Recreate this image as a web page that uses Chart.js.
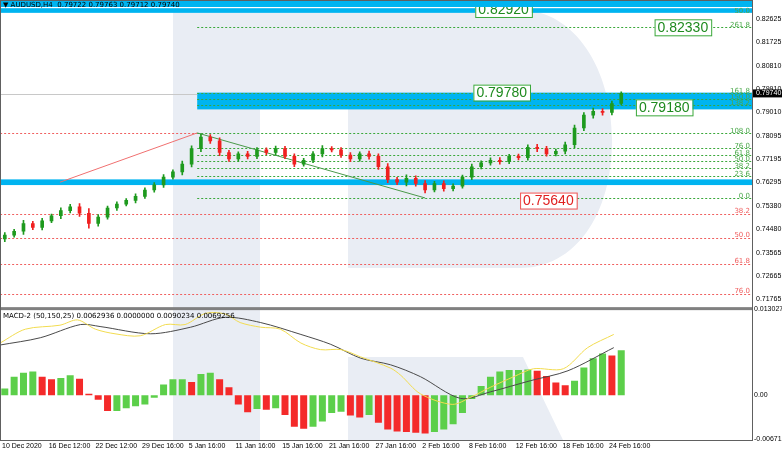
<!DOCTYPE html>
<html>
<head>
<meta charset="utf-8">
<script src="https://cdn.jsdelivr.net/npm/chart.js@4.4.1/dist/chart.umd.min.js"></script>
<style>
  html, body { margin: 0; padding: 0; background: #fff; }
  #wrap { width: 782px; height: 452px; position: relative; }
</style>
</head>
<body>
<div id="wrap"><canvas id="chart" width="782" height="452"></canvas></div>
<script>
// H4 candles (one slot per ~9 px)
const closes = [0.7425, 0.7440, 0.7470, 0.7455, 0.7480, 0.7500, 0.7520, 0.7535, 0.7510, 0.7470,
  0.7495, 0.7530, 0.7545, 0.7560, 0.7575, 0.7600, 0.7620, 0.7650, 0.7670, 0.7700,
  0.7760, 0.7805, 0.7790, 0.7745, 0.7720, 0.7740, 0.7730, 0.7755, 0.7745, 0.7760,
  0.7730, 0.7700, 0.7715, 0.7740, 0.7760, 0.7755, 0.7735, 0.7720, 0.7740, 0.7730,
  0.7690, 0.7640, 0.7630, 0.7645, 0.7625, 0.7600, 0.7625, 0.7605, 0.7615, 0.7650,
  0.7690, 0.7705, 0.7715, 0.7710, 0.7730, 0.7725, 0.7765, 0.7760, 0.7740, 0.7750,
  0.7775, 0.7840, 0.7890, 0.7905, 0.7900, 0.7935, 0.7974];
const firstOpen = 0.7410;
const wicks = [0.0010, 0.0008, 0.0012, 0.0009, 0.0010, 0.0007, 0.0011, 0.0009, 0.0012, 0.0018,
  0.0010, 0.0008, 0.0009, 0.0007, 0.0010, 0.0008, 0.0009, 0.0010, 0.0008, 0.0012,
  0.0011, 0.0012, 0.0010, 0.0012, 0.0009, 0.0008, 0.0010, 0.0009, 0.0008, 0.0010,
  0.0009, 0.0010, 0.0008, 0.0009, 0.0012, 0.0008, 0.0009, 0.0010, 0.0008, 0.0011,
  0.0010, 0.0012, 0.0009, 0.0014, 0.0010, 0.0011, 0.0008, 0.0010, 0.0009, 0.0008,
  0.0010, 0.0008, 0.0009, 0.0010, 0.0008, 0.0009, 0.0010, 0.0012, 0.0009, 0.0008,
  0.0010, 0.0011, 0.0010, 0.0012, 0.0010, 0.0009, 0.0006];

// MACD-2 histogram, one value per candle
const histogram = [0.0010, 0.0028, 0.0034, 0.0036, 0.0028, 0.0024, 0.0026, 0.0030, 0.0025, 0.0002,
  -0.0007, -0.0024, -0.0024, -0.0020, -0.0017, -0.0014, -0.0004, 0.0016, 0.0024, 0.0024,
  0.0020, 0.0032, 0.0034, 0.0024, 0.0012, -0.0014, -0.0026, -0.0021, -0.0022, -0.0020,
  -0.0030, -0.0048, -0.0051, -0.0048, -0.0040, -0.0027, -0.0025, -0.0031, -0.0034, -0.0030,
  -0.0042, -0.0052, -0.0055, -0.0056, -0.0057, -0.0058, -0.0056, -0.0052, -0.0044, -0.0027,
  -0.0006, 0.0014, 0.0028, 0.0036, 0.0038, 0.0038, 0.0039, 0.0037, 0.0029, 0.0019,
  0.0015, 0.0022, 0.0042, 0.0056, 0.0063, 0.0060, 0.0068];

// MACD lines, read as (slot, value) points
const signalX = [-0.5, 2.2, 5.9, 7.8, 9.7, 11.8, 14.5, 17.2, 19.3, 21.5, 23.6, 25.2, 27.4, 29.5, 31.7,
  33.8, 36, 38.1, 41.3, 42.4, 44.5, 47.9, 49.9, 52, 54.5, 56.6, 59.8, 62.4, 65.2];
const signalY = [0.0079, 0.0100, 0.0106, 0.0114, 0.0100, 0.0093, 0.0090, 0.0107, 0.0107, 0.0124, 0.0123,
  0.0110, 0.0103, 0.0100, 0.0079, 0.0069, 0.0069, 0.0058, 0.0041, 0.0030, 0.0002, -0.0014, -0.0003,
  0.0012, 0.0028, 0.0040, 0.0040, 0.0072, 0.0092];
const macdX = [-0.5, 3.8, 8.1, 10.2, 15.6, 19.9, 23.6, 27.4, 31.7, 34.9, 38.1, 41.3, 44.5, 48.8, 52, 56.3, 60.3, 65.2];
const macdY = [0.0076, 0.0087, 0.0107, 0.0104, 0.0093, 0.0103, 0.0118, 0.0110, 0.0092, 0.0077, 0.0056,
  0.0046, 0.0028, -0.0005, 0.0005, 0.0022, 0.0037, 0.0072];

// axis labels
const timeLabels = ['10 Dec 2020', '16 Dec 12:00', '22 Dec 12:00', '29 Dec 16:00', '5 Jan 16:00', '11 Jan 16:00',
  '15 Jan 16:00', '21 Jan 16:00', '27 Jan 16:00', '2 Feb 16:00', '8 Feb 16:00', '12 Feb 16:00',
  '18 Feb 16:00', '24 Feb 16:00'];
const priceTicks = [0.82625, 0.81725, 0.80810, 0.79910, 0.79010, 0.78095, 0.77195, 0.76295,
  0.75380, 0.74480, 0.73565, 0.72665, 0.71765];
const macdTicks = [0.0130275, 0, -0.006718];

// fibonacci levels [label, price, fromSlot]
const fibGreen = [['261.8', 0.8232, 20.6], ['161.8', 0.7977, 20.6], ['150.0', 0.7954, 20.6], ['138.2', 0.7931, 20.6],
  ['108.0', 0.7821, 20.6], ['76.0', 0.7763, 20.6], ['61.8', 0.7737, 20.6], ['50.0', 0.7714, 20.6],
  ['38.2', 0.7687, 20.6], ['23.6', 0.7653, 20.6], ['0.0', 0.7569, 20.6]];
const fibRed = [['38.2', 0.7508], ['50.0', 0.7413], ['61.8', 0.7314], ['76.0', 0.7199]];
const zones = [[0.8304, 0.8286, -0.5], [0.7977, 0.7912, 20.6], [0.7641, 0.7619, -0.5]];
const boxes = [['0.82920', 0.8301, 53.4, 'g'], ['0.82330', 0.8230, 72.6, 'g'], ['0.79780', 0.7977, 53.2, 'g'],
  ['0.79180', 0.7920, 70.6, 'g'], ['0.75640', 0.7559, 58.2, 'r']];
const lastPrice = 0.79740;

const slots = closes.map((c, i) => i);
const opens = closes.map((c, i) => i === 0 ? firstOpen : closes[i - 1]);
const upGreen = '#1e9a1e', downRed = '#f02020';

const bodies = slots.map(i => ({ x: i, y: [opens[i], closes[i]] }));
const shadows = slots.map(i => ({ x: i, y: [Math.min(opens[i], closes[i]) - wicks[i], Math.max(opens[i], closes[i]) + wicks[i]] }));
const candleColors = slots.map(i => closes[i] >= opens[i] ? upGreen : downRed);
const histColors = histogram.map((v, i) => (i === 0 || v >= histogram[i - 1]) ? '#5ccf4a' : '#f42a2a');

const axisFont = { family: 'Liberation Sans', size: 7 };

const overlay = {
  id: 'overlay',
  beforeDatasetsDraw(chart) {
    const { ctx, chartArea: a, scales } = chart;
    const y = scales.y, x = scales.x;
    ctx.save();
    // watermark
    ctx.fillStyle = '#e9edf4';
    ctx.fillRect(173, 10, 87, a.bottom - 10);
    ctx.beginPath();
    ctx.moveTo(260, 10); ctx.lineTo(520, 10);
    ctx.bezierCurveTo(575, 10, 612, 70, 612, 140);
    ctx.bezierCurveTo(612, 215, 575, 268, 520, 268);
    ctx.lineTo(348, 268); ctx.lineTo(348, 105); ctx.lineTo(260, 105); ctx.closePath();
    ctx.fill();
    ctx.beginPath();
    ctx.moveTo(348, 357); ctx.lineTo(523, 357); ctx.lineTo(563, a.bottom); ctx.lineTo(348, a.bottom); ctx.closePath();
    ctx.fill();
    // zones
    ctx.fillStyle = '#00b4f0';
    zones.forEach(z => {
      const x0 = Math.max(a.left, x.getPixelForValue(z[2]));
      ctx.fillRect(x0, y.getPixelForValue(z[0]), a.right - x0, y.getPixelForValue(z[1]) - y.getPixelForValue(z[0]));
    });
    ctx.setLineDash([2, 2]);
    ctx.lineWidth = 1;
    ctx.font = '7px "DejaVu Sans"';
    ctx.textAlign = 'right';
    ctx.textBaseline = 'bottom';
    // red levels
    ctx.strokeStyle = '#f06060'; ctx.fillStyle = '#f06060';
    fibRed.forEach(f => {
      const py = Math.round(y.getPixelForValue(f[1])) + 0.5;
      ctx.beginPath(); ctx.moveTo(a.left, py); ctx.lineTo(a.right, py); ctx.stroke();
      ctx.fillText(f[0], a.right - 2, py);
    });
    const p108 = Math.round(y.getPixelForValue(0.7821)) + 0.5;
    ctx.beginPath(); ctx.moveTo(a.left, p108); ctx.lineTo(x.getPixelForValue(20.6), p108); ctx.stroke();
    // green levels
    ctx.strokeStyle = '#3aa83a'; ctx.fillStyle = '#4aa84a';
    fibGreen.forEach(f => {
      const py = Math.round(y.getPixelForValue(f[1])) + 0.5;
      ctx.beginPath(); ctx.moveTo(x.getPixelForValue(f[2]), py); ctx.lineTo(a.right, py); ctx.stroke();
      ctx.fillText(f[0], a.right - 2, py + 1);
    });
    ctx.fillText('50.0', a.right - 2, y.getPixelForValue(0.8304) + 6);
    ctx.setLineDash([]);
    ctx.strokeStyle = '#c8c8c8';
    const pg = Math.round(y.getPixelForValue(0.7973)) + 0.5;
    ctx.beginPath(); ctx.moveTo(a.left, pg); ctx.lineTo(x.getPixelForValue(20.6), pg); ctx.stroke();
    // trend lines
    ctx.strokeStyle = '#f07070';
    ctx.beginPath(); ctx.moveTo(x.getPixelForValue(5.9), y.getPixelForValue(0.7630));
    ctx.lineTo(x.getPixelForValue(20.6), y.getPixelForValue(0.7821)); ctx.stroke();
    ctx.strokeStyle = '#4a9a4a';
    ctx.beginPath(); ctx.moveTo(x.getPixelForValue(20.6), y.getPixelForValue(0.7821));
    ctx.lineTo(x.getPixelForValue(45.0), y.getPixelForValue(0.7569)); ctx.stroke();
    ctx.restore();
  },
  afterDraw(chart) {
    const { ctx, chartArea: a, scales } = chart;
    const y = scales.y, x = scales.x;
    ctx.save();
    // value boxes
    ctx.font = '14px "Liberation Sans"';
    ctx.textAlign = 'center'; ctx.textBaseline = 'middle';
    boxes.forEach(b => {
      const cx = x.getPixelForValue(b[2]), cy = y.getPixelForValue(b[1]);
      const w = ctx.measureText(b[0]).width + 6;
      ctx.fillStyle = '#ffffff';
      ctx.fillRect(cx - w / 2, cy - 8, w, 16);
      ctx.strokeStyle = b[3] === 'g' ? '#3aa83a' : '#f05050';
      ctx.strokeRect(cx - w / 2 + 0.5, cy - 7.5, w, 16);
      ctx.fillStyle = b[3] === 'g' ? '#1e8a1e' : '#e02020';
      ctx.fillText(b[0], cx, cy + 1);
    });
    // panel separator and frame
    const sep = y.bottom;
    ctx.fillStyle = '#808080';
    ctx.fillRect(0, sep, a.right, 3);
    ctx.strokeStyle = '#606060'; ctx.lineWidth = 1;
    ctx.strokeRect(0.5, 0.5, a.right, a.bottom);
    // header
    ctx.fillStyle = '#00b4f0';
    ctx.fillRect(1, 1, a.right - 1, 6);
    ctx.font = '7px "DejaVu Sans"'; ctx.textAlign = 'left'; ctx.textBaseline = 'middle';
    ctx.fillStyle = '#000';
    ctx.fillText('\u25BC AUDUSD,H4  0.79722 0.79763 0.79712 0.79740', 3, 5);
    ctx.fillText('MACD-2 (50,150,25) 0.0062936 0.0000000 0.0090234 0.0069256', 3, sep + 9);
    // last price tag
    const ly = y.getPixelForValue(lastPrice);
    ctx.fillStyle = '#000';
    ctx.fillRect(a.right + 1, ly - 4, 30, 8);
    ctx.fillStyle = '#fff';
    ctx.font = '7px "Liberation Sans"';
    ctx.fillText(lastPrice.toFixed(5), a.right + 4, ly);
    ctx.restore();
  }
};

new Chart(document.getElementById('chart'), {
  data: {
    datasets: [
      { type: 'bar', data: shadows, yAxisID: 'y', backgroundColor: candleColors, barThickness: 1, grouped: false, order: 2 },
      { type: 'bar', data: bodies, yAxisID: 'y', backgroundColor: candleColors, barThickness: 3, grouped: false, order: 1 },
      { type: 'bar', data: slots.map(i => ({ x: i, y: histogram[i] })), yAxisID: 'y2', backgroundColor: histColors,
        barPercentage: 0.75, categoryPercentage: 1, grouped: false, order: 3 },
      { type: 'line', data: signalX.map((v, i) => ({ x: v, y: signalY[i] })), yAxisID: 'y2', borderColor: '#f2dc50',
        borderWidth: 1, pointRadius: 0, tension: 0.3, order: 0 },
      { type: 'line', data: macdX.map((v, i) => ({ x: v, y: macdY[i] })), yAxisID: 'y2', borderColor: '#4a4a4a',
        borderWidth: 1, pointRadius: 0, tension: 0.3, order: 0 }
    ]
  },
  options: {
    responsive: false,
    animation: false,
    layout: { padding: { top: 0, left: 0, right: 0, bottom: 0 } },
    plugins: { legend: { display: false }, tooltip: { enabled: false } },
    scales: {
      x: {
        type: 'linear', min: -0.5, max: 80, offset: false,
        grid: { display: false, drawTicks: false, tickLength: 0 }, border: { display: false },
        afterBuildTicks: s => { s.ticks = timeLabels.map((t, i) => ({ value: -0.3 + i * 5 })); },
        afterFit: s => { s.height = 12; },
        ticks: { autoSkip: false, maxRotation: 0, padding: 2, align: 'start', color: '#000',
          font: axisFont, callback: (v, i) => timeLabels[i] }
      },
      y: {
        position: 'right', stack: 'p', stackWeight: 2.25, min: 0.71462, max: 0.8304,
        grid: { display: false, drawTicks: false, tickLength: 0 }, border: { color: '#606060' },
        afterBuildTicks: s => { s.ticks = priceTicks.map(v => ({ value: v })); },
        afterFit: s => { s.width = 30; },
        ticks: { color: '#000', padding: 4, font: axisFont, callback: v => v.toFixed(5) }
      },
      y2: {
        position: 'right', stack: 'p', stackWeight: 1, min: -0.0068, max: 0.01334,
        grid: { display: false, drawTicks: false, tickLength: 0 }, border: { color: '#606060' },
        afterBuildTicks: s => { s.ticks = macdTicks.map(v => ({ value: v })); },
        afterFit: s => { s.width = 30; },
        ticks: { color: '#000', padding: 2, font: axisFont,
          callback: v => v === 0 ? '0.00' : String(v) }
      }
    }
  },
  plugins: [overlay]
});
</script>
</body>
</html>
